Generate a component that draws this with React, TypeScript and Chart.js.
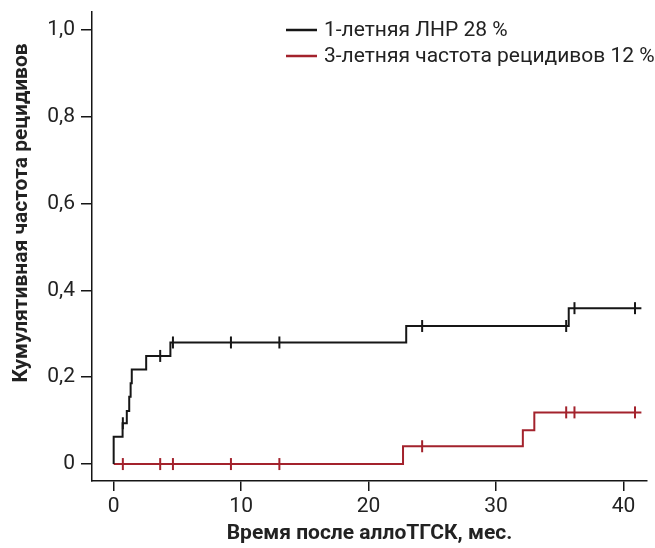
import React, { useEffect, useRef } from 'react';
import { Chart, registerables } from 'chart.js';

Chart.register(...registerables);

// ---- data ----
const seriesNames = ['1-летняя ЛНР 28 %', '3-летняя частота рецидивов 12 %'];
const seriesColors = ['#161616', '#a3222c'];

// step curve 1 (black): event times (months) and cumulative values
const lnrTimes = [0, 0, 0.7, 1.03, 1.22, 1.33, 1.42, 2.55, 4.45, 22.95, 35.7, 41.4];
const lnrValues = [0, 0.063, 0.094, 0.122, 0.155, 0.186, 0.218, 0.249, 0.28, 0.318, 0.359, 0.359];
const lnrCensored = [0.72, 3.65, 4.65, 9.2, 13.0, 24.2, 35.5, 36.15, 40.9];

// step curve 2 (red)
const relTimes = [0, 22.7, 32.1, 33.0, 41.4];
const relValues = [0, 0.041, 0.078, 0.119, 0.119];
const relCensored = [0.72, 3.65, 4.65, 9.2, 13.0, 24.2, 35.5, 36.15, 40.9];

const xTicks = [0, 10, 20, 30, 40];
const yTicks = [0, 0.2, 0.4, 0.6, 0.8, 1.0];
const yTickLabels = ['0', '0,2', '0,4', '0,6', '0,8', '1,0'];

const xTitle = 'Время после аллоТГСК, мес.';
const yTitle = 'Кумулятивная частота рецидивов';

function valueAt(times: number[], values: number[], t: number): number {
  let v = values[0];
  for (let i = 0; i < times.length; i++) {
    if (times[i] <= t) v = values[i];
  }
  return v;
}

const FONT = 'Roboto, "Noto Sans", sans-serif';
const AXIS = '#151515';
const TEXT = '#222222';

export default function App() {
  const ref = useRef<HTMLCanvasElement | null>(null);

  useEffect(() => {
    document.body.style.margin = '0';
    const canvas = ref.current;
    if (!canvas) return;

    const overlay = {
      id: 'overlay',
      afterDraw(chart: any) {
        const ctx = chart.ctx;
        ctx.save();
        // legend
        const lx = 286;
        const rows = [30, 56];
        for (let i = 0; i < 2; i++) {
          ctx.strokeStyle = seriesColors[i];
          ctx.lineWidth = 2.5;
          ctx.beginPath();
          ctx.moveTo(lx, rows[i]);
          ctx.lineTo(lx + 31, rows[i]);
          ctx.stroke();
          ctx.fillStyle = TEXT;
          ctx.font = `21px ${FONT}`;
          ctx.textBaseline = 'middle';
          ctx.textAlign = 'left';
          ctx.fillText(chart.data.datasets[i].label, lx + 38, rows[i] + 1);
        }
        // y title
        ctx.translate(22, 213);
        ctx.rotate(-Math.PI / 2);
        ctx.font = `bold 21px ${FONT}`;
        ctx.textAlign = 'center';
        ctx.textBaseline = 'middle';
        ctx.fillStyle = TEXT;
        ctx.fillText(yTitle, 0, 0);
        ctx.restore();
      },
    };

    const censorSet = (times: number[], values: number[], cens: number[], color: string) => ({
      label: '',
      data: cens.map((t) => ({ x: t, y: valueAt(times, values, t) })),
      showLine: false,
      pointStyle: 'line',
      rotation: 90,
      pointRadius: 6,
      pointHoverRadius: 6,
      borderColor: color,
      pointBorderColor: color,
      pointBorderWidth: 2,
      borderWidth: 2,
    });

    const chart = new Chart(canvas, {
      type: 'line',
      data: {
        datasets: [
          {
            label: seriesNames[0],
            data: lnrTimes.map((x, i) => ({ x, y: lnrValues[i] })),
            borderColor: seriesColors[0],
            borderWidth: 2,
            stepped: true,
            pointRadius: 0,
            fill: false,
          },
          {
            label: seriesNames[1],
            data: relTimes.map((x, i) => ({ x, y: relValues[i] })),
            borderColor: seriesColors[1],
            borderWidth: 2,
            stepped: true,
            pointRadius: 0,
            fill: false,
          },
          censorSet(lnrTimes, lnrValues, lnrCensored, seriesColors[0]),
          censorSet(relTimes, relValues, relCensored, seriesColors[1]),
        ] as any,
      },
      options: {
        animation: false,
        responsive: false,
        maintainAspectRatio: false,
        layout: { padding: { top: 12, right: 0, left: 0, bottom: 0 } },
        plugins: {
          legend: { display: false },
          tooltip: { enabled: false },
          title: { display: false },
        },
        scales: {
          x: {
            type: 'linear',
            min: -1.7,
            max: 41.84,
            afterBuildTicks: (s: any) => {
              s.ticks = xTicks.map((v) => ({ value: v }));
            },
            afterFit: (s: any) => {
              s.height = 67;
              s.paddingLeft = 0;
              s.paddingRight = 0;
            },
            ticks: {
              font: { family: FONT, size: 21 },
              color: TEXT,
              padding: 3,
              maxRotation: 0,
              callback: (v: any) => String(v),
            },
            grid: {
              drawOnChartArea: false,
              drawTicks: true,
              tickLength: 10,
              color: AXIS,
              lineWidth: 1.5,
            },
            border: { display: true, color: AXIS, width: 1.5 },
            title: {
              display: true,
              text: xTitle,
              font: { family: FONT, size: 21, weight: 'bold' },
              color: TEXT,
              padding: { top: 2, bottom: 2 },
            },
          },
          y: {
            type: 'linear',
            min: -0.039,
            max: 1.041,
            afterBuildTicks: (s: any) => {
              s.ticks = yTicks.map((v) => ({ value: v }));
            },
            afterFit: (s: any) => {
              s.width = 92;
              s.paddingTop = 0;
              s.paddingBottom = 0;
            },
            ticks: {
              font: { family: FONT, size: 21 },
              color: TEXT,
              padding: 6,
              callback: (v: any) => {
                const i = yTicks.findIndex((t) => Math.abs(t - v) < 1e-6);
                return i >= 0 ? yTickLabels[i] : '';
              },
            },
            grid: {
              drawOnChartArea: false,
              drawTicks: true,
              tickLength: 11,
              color: AXIS,
              lineWidth: 1.5,
            },
            border: { display: true, color: AXIS, width: 1.5 },
          },
        },
      } as any,
      plugins: [overlay],
    });

    return () => chart.destroy();
  }, []);

  return (
    <div style={{ width: 655, height: 548 }}>
      <canvas ref={ref} width={655} height={548} style={{ display: 'block' }} />
    </div>
  );
}
